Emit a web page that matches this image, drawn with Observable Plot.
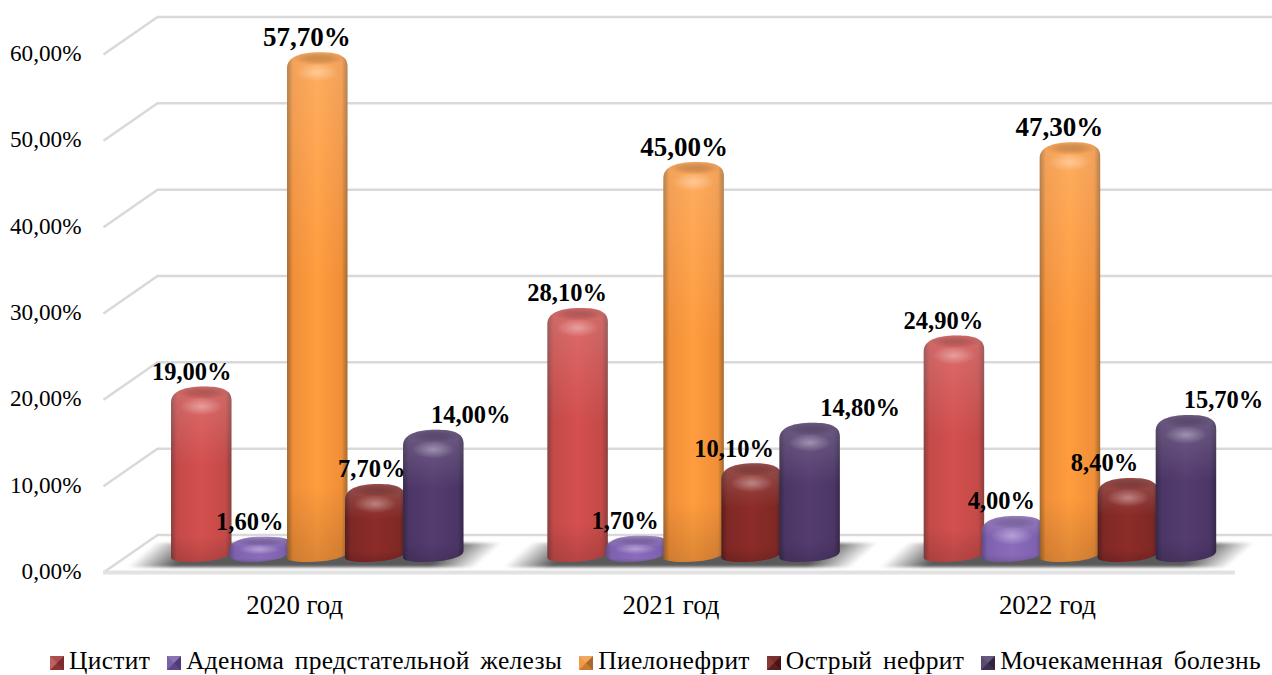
<!DOCTYPE html>
<html lang="ru">
<head>
<meta charset="utf-8">
<script src="https://cdn.jsdelivr.net/npm/d3@7"></script>
<script src="https://cdn.jsdelivr.net/npm/@observablehq/plot@0.6"></script>
<style>
  html, body { margin: 0; padding: 0; background: #fff; }
  body { position: relative; width: 1272px; height: 675px; overflow: hidden; }
  #legend { position: absolute; left: 50px; top: 647px; height: 28px; line-height: 28px; display: flex; align-items: center; gap: 17px;
    font-family: "Liberation Serif", serif; font-size: 25.5px; letter-spacing: 0.3px; word-spacing: 4px; color: #000; white-space: nowrap; }
  #legend .item { display: flex; align-items: center; gap: 5px; }
  #legend .key { width: 0; height: 0; border-style: solid; border-width: 7.5px; position: relative; top: 2px; }
</style>
</head>
<body>
<div id="chart"></div>
<div id="legend"></div>
<script>
const years = ["2020 год", "2021 год", "2022 год"];
const seriesNames = ["Цистит", "Аденома предстательной железы", "Пиелонефрит", "Острый нефрит", "Мочекаменная болезнь"];
const cystitis = [19.0, 28.1, 24.9];
const adenoma = [1.6, 1.7, 4.0];
const pyelo = [57.7, 45.0, 47.3];
const nephritis = [7.7, 10.1, 8.4];
const stones = [14.0, 14.8, 15.7];
const seriesValues = [cystitis, adenoma, pyelo, nephritis, stones];
const yTicks = [0, 10, 20, 30, 40, 50, 60];

// label nudges (px, relative to the top centre of each cylinder), per series then year
const labelDx = [[-10, -11, -11], [-10, -11, -11], [-11, -10, -11], [-4, -18, -24], [37, 50, 37]];
const labelSize = [24.5, 24.5, 27, 24.5, 24.5];

// colours: edge, mid, centre
const ramps = [
  ["#8a3f3f", "#c44a48", "#d4504e"],
  ["#5f4a86", "#7e61ae", "#8b6cbc"],
  ["#a5692f", "#f08f38", "#ff9c3e"],
  ["#551f1f", "#7f2825", "#8c2c29"],
  ["#37294a", "#4c3666", "#543c70"]
];
const keys = [
  ["#a85050", "#7c2c2c", "#8c3434", "#c06060"],
  ["#8a74b4", "#4e3a78", "#5e4688", "#7a62a8"],
  ["#f2a860", "#a8682a", "#c87c30", "#f09a48"],
  ["#7a3030", "#4a1414", "#5a1c1c", "#8a3a36"],
  ["#66587c", "#32243f", "#3e2e50", "#5a4a70"]
];

const unit = 376.3;                 // px per group on the x scale
const px = (p) => p / unit;
const depthX = px(51), depthY = 37.5 / 8.633;
const rows = years.flatMap((year, g) => seriesValues.map((vals, s) => ({
  year, g, s, value: vals[g],
  x1: g + px(65 + 58 * s),
  x2: g + px(65 + 58 * s + 60.5)
})));

const fmt = (v) => v.toFixed(2).replace(".", ",") + "%";

function defs() {
  const d = d3.create("svg:defs");
  ramps.forEach(([e, m, c], i) => {
    const g = d.append("linearGradient").attr("id", "c" + i);
    [[0, e], [0.1, m], [0.5, c], [0.9, m], [1, e]].forEach(([o, col]) =>
      g.append("stop").attr("offset", o).attr("stop-color", col));
  });
  const lift = d.append("linearGradient").attr("id", "lift").attr("x2", 0).attr("y2", 1);
  [[0, "#fff", 0.18], [0.45, "#fff", 0], [0.85, "#000", 0], [1, "#000", 0.14]].forEach(([o, col, a]) =>
    lift.append("stop").attr("offset", o).attr("stop-color", col).attr("stop-opacity", a));
  const cap = d.append("radialGradient").attr("id", "cap");
  [[0, 0.2], [0.45, 0.15], [1, 0]].forEach(([o, a]) =>
    cap.append("stop").attr("offset", o).attr("stop-color", "#000").attr("stop-opacity", a));
  const spot = d.append("radialGradient").attr("id", "spot");
  [[0, 0.36], [1, 0]].forEach(([o, a]) =>
    spot.append("stop").attr("offset", o).attr("stop-color", "#fff").attr("stop-opacity", a));
  const sh = d.append("linearGradient").attr("id", "shadow").attr("x2", 1).attr("y2", 0.075);
  [[0.075, 0], [0.2, 0.9], [0.875, 0.9], [1, 0]].forEach(([o, a]) =>
    sh.append("stop").attr("offset", o).attr("stop-color", "#484848").attr("stop-opacity", a));
  return d.node();
}

// turn each rect Plot drew into a cylinder-part path with the same box
const reshape = (shape) => (index, scales, values, dims, ctx, next) => {
  const g = next(index, scales, values, dims, ctx);
  d3.select(g).selectAll("rect").each(function () {
    const r = d3.select(this);
    const [x, y, w, h] = ["x", "y", "width", "height"].map((a) => +r.attr(a));
    const p = document.createElementNS("http://www.w3.org/2000/svg", "path");
    p.setAttribute("d", shape(x, y, w, h));
    this.replaceWith(p);
  });
  return g;
};
const bodyShape = (x, y, w, h) => {
  const tl = Math.min(16, h * 0.6), tr = Math.min(14, h * 0.2), br = Math.min(11, h * 0.5), bl = h < 30 ? h * 0.3 : 4;
  return `M${x},${y + tl}C${x},${y + tl * 0.3} ${x + w * 0.22},${y} ${x + w * 0.55},${y}` +
    `C${x + w * 0.82},${y} ${x + w},${y + tr * 0.2} ${x + w},${y + tr}` +
    `L${x + w},${y + h - br}C${x + w},${y + h - br * 0.35} ${x + w * 0.65},${y + h} ${x + w * 0.32},${y + h}` +
    `C${x + w * 0.12},${y + h} ${x},${y + h - bl * 0.5} ${x},${y + h - bl}Z`;
};
const ellipse = (cx, cy, rx, ry) =>
  `M${cx - rx},${cy}A${rx},${ry} 0 1 0 ${cx + rx},${cy}A${rx},${ry} 0 1 0 ${cx - rx},${cy}Z`;
const capShape = (x, y, w, h) => ellipse(x + w * 0.52, y + Math.min(6, h * 0.2), w * 0.42, Math.min(7, h * 0.18));
const spotShape = (x, y, w, h) => ellipse(x + w * 0.5, y + Math.min(20, h * 0.5), w * 0.36, Math.min(9, h * 0.2));

const cylDy = -21.5, cylExtend = -11.5;
const cylinder = (s) => {
  const data = rows.filter((r) => r.s === s);
  const base = { x1: "x1", x2: "x2", y1: () => 0, y2: "value", dy: cylDy, insetBottom: cylExtend };
  return [
    Plot.rect(data, { ...base, fill: `url(#c${s})`, render: reshape(bodyShape) }),
    Plot.rect(data, { ...base, fill: "url(#lift)", render: reshape(bodyShape) }),
    Plot.rect(data, { ...base, fill: "url(#cap)", render: reshape(capShape) }),
    Plot.rect(data, { ...base, fill: "url(#spot)", render: reshape(spotShape) })
  ];
};

const shadowRows = years.flatMap((year, g) => [
  { g, y: 0.55, a: g + px(20), b: g + px(368) },
  { g, y: 3.35, a: g + px(48), b: g + px(395) }
]);

const labels = rows.map((r) => Plot.text([r], {
  x: (d) => (d.x1 + d.x2) / 2,
  y: "value",
  text: (d) => fmt(d.value),
  dx: labelDx[r.s][r.g],
  dy: cylDy - 15,
  fontSize: labelSize[r.s],
  fontWeight: "bold",
  fill: "#000"
}));

const plot = Plot.plot({
  width: 1272,
  height: 640,
  marginLeft: 106,
  marginRight: 37,
  marginTop: 54,
  marginBottom: 68,
  style: { fontFamily: "'Liberation Serif', serif", background: "#fff", color: "#000" },
  x: { domain: [0, 3] },
  y: { domain: [0, 60] },
  marks: [
    defs,
    Plot.ruleY(yTicks, { y: (d) => d + depthY, x1: () => depthX, x2: () => 3 + px(40), stroke: "#d9d9d9", strokeWidth: 2.5 }),
    Plot.link(yTicks, { x1: () => -px(3), y1: (d) => d, x2: () => depthX, y2: (d) => d + depthY, stroke: "#d9d9d9", strokeWidth: 2.5 }),
    Plot.ruleY([0], { x1: () => -px(3), x2: () => 3, stroke: "#e2e2e2", strokeWidth: 4 }),
    Plot.areaX(shadowRows, { y: "y", x1: "a", x2: "b", z: "g", fill: "url(#shadow)", imageFilter: "blur(1.5px)" }),
    ...seriesNames.flatMap((_, s) => cylinder(s)),
    Plot.axisY(yTicks, { tickSize: 0, tickPadding: 25, fontSize: 23.2, tickFormat: fmt, label: null, fill: "#000", dy: -1 }),
    Plot.axisX({ ticks: [0.5, 1.5, 2.5], tickSize: 0, tickPadding: 22, fontSize: 26.8, tickFormat: (d) => years[Math.floor(d)], label: null, fill: "#000" }),
    ...labels
  ]
});
plot.style.display = "block";
document.getElementById("chart").append(plot);

const legend = d3.select("#legend");
seriesNames.forEach((name, i) => {
  const it = legend.append("div").attr("class", "item");
  it.append("span").attr("class", "key").style("border-color", keys[i].join(" "));
  it.append("span").text(name);
});
</script>
</body>
</html>
